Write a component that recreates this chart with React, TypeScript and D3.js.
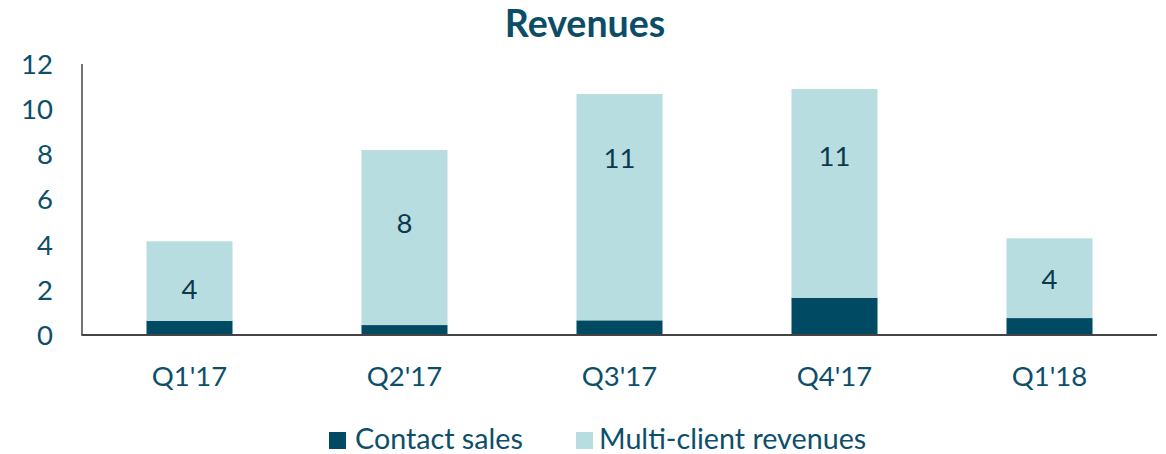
import React from "react";
import * as d3 from "d3";

const categories = ["Q1'17", "Q2'17", "Q3'17", "Q4'17", "Q1'18"];
const contactSales = [0.63, 0.44, 0.65, 1.65, 0.75];
const multiClient = [3.52, 7.75, 10.02, 9.24, 3.53];
const totalLabels = ["4", "8", "11", "11", "4"];
const labelValue = [2.04, 4.94, 7.84, 7.93, 2.46];
const yTicks = [0, 2, 4, 6, 8, 10, 12];
const seriesNames = ["Contact sales", "Multi-client revenues"];

const W = 1166;
const H = 454;
const DARK = "#004A63";
const LIGHT = "#B8DDE0";
const TEXT = "#0D4F6B";
const FONT = "Lato, 'Open Sans', sans-serif";

export default function App() {
  const x = d3
    .scaleBand<string>()
    .domain(categories)
    .range([82, 1157])
    .paddingInner(0.6)
    .paddingOuter(0.3);
  const y = d3.scaleLinear().domain([0, 12]).range([335, 64]);

  const rows = categories.map((c, i) => ({
    cat: c,
    contact: contactSales[i],
    multi: multiClient[i],
  }));
  const stack = d3.stack<any>().keys(["contact", "multi"])(rows);
  const colors = [DARK, LIGHT];

  return (
    <svg
      width={W}
      height={H}
      style={{ position: "absolute", left: 0, top: 0, background: "#fff" }}
    >
      <text
        x={585}
        y={37}
        textAnchor="middle"
        fontFamily={FONT}
        fontWeight={700}
        fontSize={37.5}
        fill="#0B4D69"
      >
        Revenues
      </text>

      {stack.map((layer, li) =>
        layer.map((d, i) => (
          <rect
            key={`${li}-${i}`}
            x={x(categories[i])}
            y={y(d[1])}
            width={x.bandwidth()}
            height={y(d[0]) - y(d[1])}
            fill={colors[li]}
          />
        ))
      )}

      {/* axes */}
      <line x1={82} x2={82} y1={64} y2={335.5} stroke="#444" strokeWidth={1.5} />
      <line x1={81.5} x2={1157} y1={335} y2={335} stroke="#444" strokeWidth={1.8} />

      {yTicks.map((t) => (
        <text
          key={t}
          x={53}
          y={y(t)}
          dy="0.36em"
          textAnchor="end"
          fontFamily={FONT}
          fontSize={27.5}
          fill={TEXT}
        >
          {t}
        </text>
      ))}

      {categories.map((c) => (
        <text
          key={c}
          x={(x(c) as number) + x.bandwidth() / 2}
          y={386}
          textAnchor="middle"
          fontFamily={FONT}
          fontSize={27.5}
          fill={TEXT}
        >
          {c}
        </text>
      ))}

      {categories.map((c, i) => (
        <text
          key={`l-${c}`}
          x={(x(c) as number) + x.bandwidth() / 2}
          y={y(labelValue[i])}
          dy="0.36em"
          textAnchor="middle"
          fontFamily={FONT}
          fontSize={27.5}
          fill="#0B3A4E"
        >
          {totalLabels[i]}
        </text>
      ))}

      {/* legend */}
      <rect x={329} y={432} width={17} height={17} fill={DARK} />
      <text x={355} y={449} fontFamily={FONT} fontSize={28.7} fill={TEXT}>
        {seriesNames[0]}
      </text>
      <rect x={576} y={432} width={17} height={17} fill={LIGHT} />
      <text x={599} y={449} fontFamily={FONT} fontSize={28.7} fill={TEXT}>
        {seriesNames[1]}
      </text>
    </svg>
  );
}
